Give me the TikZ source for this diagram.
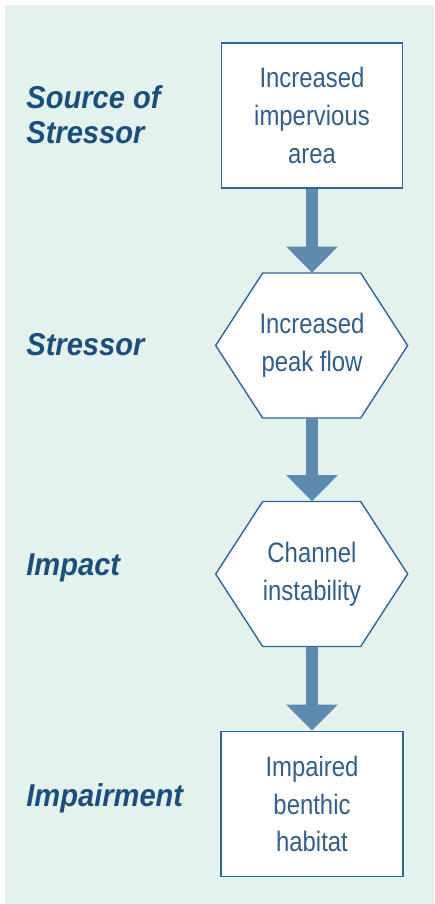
\documentclass[tikz,border=0pt]{standalone}
\usepackage{fontspec}
\setmainfont{Liberation Sans}
\newfontfamily\boxfont{Liberation Sans}[FakeStretch=0.85]
\newfontfamily\labelfont{Liberation Sans}[FakeStretch=0.92]
\usetikzlibrary{arrows.meta,backgrounds}
\definecolor{panelbg}{HTML}{E4F2EE}
\definecolor{labelblue}{HTML}{1A4E7E}
\definecolor{textblue}{HTML}{2F5F8C}
\definecolor{edgeblue}{HTML}{2F6699}
\definecolor{arrowblue}{HTML}{5E8AAF}
\tikzset{
  stagebox/.style={draw=edgeblue,line width=1.1pt,fill=white,minimum width=3.62cm,minimum height=2.9cm,inner sep=0pt,align=center,text=textblue,font=\boxfont\fontsize{16}{21.5}\selectfont},
  hexbox/.style={minimum width=3.84cm,minimum height=2.9cm,inner sep=0pt,align=center,text=textblue,font=\boxfont\fontsize{16}{21.5}\selectfont},
  hexline/.style={draw=edgeblue,line width=0.8pt,fill=white,line join=miter},
  stagelabel/.style={anchor=west,inner sep=0pt,align=left,text=labelblue,font=\labelfont\bfseries\itshape\fontsize{18}{19.8}\selectfont},
  flow/.style={draw=arrowblue,line width=0.26cm,-{Triangle[width=1cm,length=0.52cm]}}
}
\begin{document}
\begin{tikzpicture}[x=0.02cm,y=-0.02cm]
	\useasboundingbox (0,0) rectangle (434,904);
	% boxes
	\node[stagebox] (src) at (312,115.5) {Increased\\impervious\\area};
	\node[hexbox] (peak) at (312,345.5) {Increased\\peak flow};
	\node[hexbox] (chan) at (312,574) {Channel\\instability};
	\node[stagebox,minimum width=3.64cm] (hab) at (312,804) {Impaired\\benthic\\habitat};
	% hexagon outlines and panel
	\begin{scope}[on background layer]
		\fill[white] (0,0) rectangle (434,904);
		\fill[panelbg] (5,5) rectangle (434,904);
		\foreach \h in {peak,chan}
			\draw[hexline] (\h.west) -- ++(47,-72.5) -- ++(98,0) -- ++(47,72.5) -- ++(-47,72.5) -- ++(-98,0) -- cycle;
	\end{scope}
	% labels
	\node[stagelabel] (lsrc) at (26,115) {Source of\\Stressor};
	\node[stagelabel] (lstr) at (26,345) {Stressor};
	\node[stagelabel] (limp) at (26,568) {Impact};
	\node[stagelabel] (lhab) at (26,798) {Impairment};
	% arrows
	\draw[flow] (src) -- (peak);
	\draw[flow] (peak) -- (chan);
	\draw[flow] (chan) -- (hab);
\end{tikzpicture}
\end{document}
